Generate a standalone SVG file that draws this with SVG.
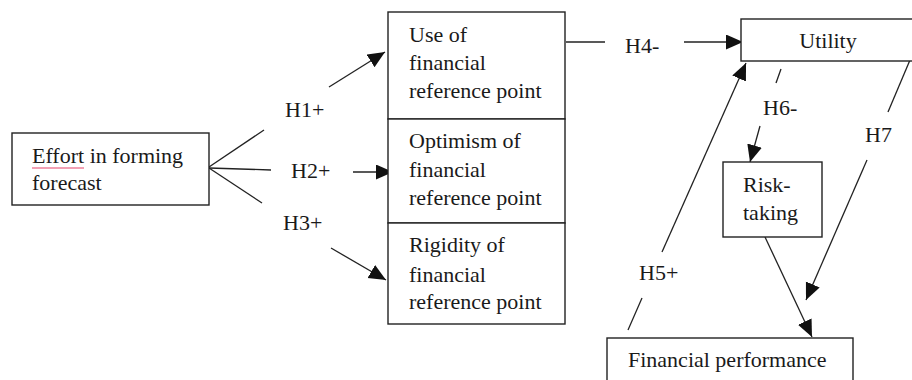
<svg xmlns="http://www.w3.org/2000/svg" width="912" height="380" viewBox="0 0 912 380">
<style>
.box{fill:#fff;stroke:#222;stroke-width:1.4}
text{font-family:'Liberation Serif','DejaVu Serif','Times New Roman',Times,serif;font-size:22px;fill:#1a1a1a}
.c{fill:none;stroke:#222;stroke-width:1.3}
</style>
<defs>
<marker id="ah" markerUnits="userSpaceOnUse" markerWidth="20" markerHeight="18" refX="17" refY="7.5" orient="auto">
<path d="M0,0 L17,7.5 L0,15 z" fill="#111"/>
</marker>
</defs>
<rect width="912" height="380" fill="#fff"/>
<g id="connectors">
<line class="c" x1="209" y1="167" x2="264" y2="130"/>
<line class="c" x1="209" y1="168" x2="271" y2="170"/>
<line class="c" x1="209" y1="168" x2="262" y2="203"/>
<line class="c" x1="329" y1="87" x2="385" y2="52" marker-end="url(#ah)"/>
<line class="c" x1="353" y1="172" x2="393" y2="172" marker-end="url(#ah)"/>
<line class="c" x1="331" y1="248" x2="386" y2="280" marker-end="url(#ah)"/>
<line class="c" x1="566" y1="42" x2="605" y2="42"/>
<line class="c" x1="684" y1="42" x2="743" y2="42" marker-end="url(#ah)"/>
<line class="c" x1="781" y1="69" x2="776" y2="83"/>
<line class="c" x1="760" y1="126" x2="750" y2="162" marker-end="url(#ah)"/>
<line class="c" x1="910" y1="60" x2="888" y2="112"/>
<line class="c" x1="867" y1="160" x2="806" y2="300" marker-end="url(#ah)"/>
<line class="c" x1="628" y1="330" x2="642" y2="298"/>
<line class="c" x1="662" y1="252" x2="746" y2="63" marker-end="url(#ah)"/>
<line class="c" x1="765" y1="237" x2="812" y2="337" marker-end="url(#ah)"/>
<text x="285" y="117">H1+</text>
<text x="291" y="178">H2+</text>
<text x="283" y="230">H3+</text>
<text x="625" y="53">H4-</text>
<text x="639" y="280">H5+</text>
<text x="763" y="115">H6-</text>
<text x="865" y="142">H7</text>
</g>
<g id="effort">
<rect class="box" x="12" y="133" width="197" height="72"/>
<line x1="32" y1="168" x2="84" y2="168" stroke="#f2a0b4" stroke-width="2.2"/>
<text x="32" y="163">Effort in forming</text>
<text x="32" y="190">forecast</text>
</g>
<g id="use">
<rect class="box" x="388" y="12" width="177" height="107"/>
<text x="409" y="42">Use of</text>
<text x="409" y="70">financial</text>
<text x="409" y="98">reference point</text>
</g>
<g id="optimism">
<rect class="box" x="388" y="119" width="177" height="104"/>
<text x="409" y="148">Optimism of</text>
<text x="409" y="177">financial</text>
<text x="409" y="205">reference point</text>
</g>
<g id="rigidity">
<rect class="box" x="388" y="223" width="177" height="101"/>
<text x="409" y="252">Rigidity of</text>
<text x="409" y="282">financial</text>
<text x="409" y="309">reference point</text>
</g>
<g id="utility">
<rect class="box" x="741" y="19" width="180" height="42"/>
<text x="828" y="48" text-anchor="middle">Utility</text>
</g>
<g id="risk">
<rect class="box" x="723" y="162" width="99" height="75"/>
<text x="743" y="192">Risk-</text>
<text x="743" y="220">taking</text>
</g>
<g id="performance">
<rect class="box" x="607" y="338" width="246" height="60"/>
<text x="628" y="367">Financial performance</text>
</g>
</svg>
